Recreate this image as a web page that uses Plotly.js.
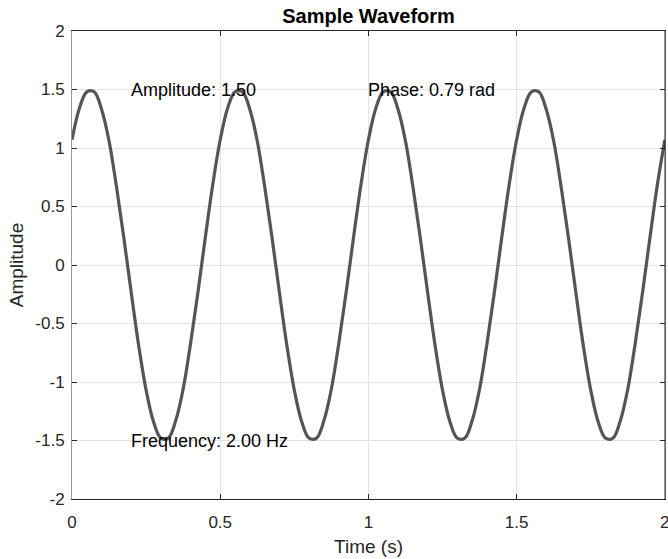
<!DOCTYPE html>
<html>
<head>
<meta charset="utf-8">
<script src="https://cdn.plot.ly/plotly-3.0.1.min.js"></script>
<style>html,body{margin:0;padding:0;background:#fff;}#chart{width:668px;height:559px;}</style>
</head>
<body>
<div id="chart"></div>
<script>
// Time samples (s)
const timeS = [
  0.000,0.025,0.050,0.075,0.100,0.125,0.150,0.175,0.200,0.225,
  0.250,0.275,0.300,0.325,0.350,0.375,0.400,0.425,0.450,0.475,
  0.500,0.525,0.550,0.575,0.600,0.625,0.650,0.675,0.700,0.725,
  0.750,0.775,0.800,0.825,0.850,0.875,0.900,0.925,0.950,0.975,
  1.000,1.025,1.050,1.075,1.100,1.125,1.150,1.175,1.200,1.225,
  1.250,1.275,1.300,1.325,1.350,1.375,1.400,1.425,1.450,1.475,
  1.500,1.525,1.550,1.575,1.600,1.625,1.650,1.675,1.700,1.725,
  1.750,1.775,1.800,1.825,1.850,1.875,1.900,1.925,1.950,1.975,
  2.000
];
// Amplitude values
const amplitude = [
  1.07,1.34,1.48,1.48,1.33,1.06,0.67,0.23,-0.24,-0.69,
  -1.07,-1.34,-1.48,-1.48,-1.33,-1.06,-0.67,-0.23,0.24,0.69,
  1.07,1.34,1.48,1.48,1.33,1.06,0.67,0.23,-0.24,-0.69,
  -1.07,-1.34,-1.48,-1.48,-1.33,-1.06,-0.67,-0.23,0.24,0.69,
  1.07,1.34,1.48,1.48,1.33,1.06,0.67,0.23,-0.24,-0.69,
  -1.07,-1.34,-1.48,-1.48,-1.33,-1.06,-0.67,-0.23,0.24,0.69,
  1.07,1.34,1.48,1.48,1.33,1.06,0.67,0.23,-0.24,-0.69,
  -1.07,-1.34,-1.48,-1.48,-1.33,-1.06,-0.67,-0.23,0.24,0.69,
  1.07
];
const xTickVals = [0, 0.5, 1, 1.5, 2];
const xTickText = ['0', '0.5', '1', '1.5', '2'];
const yTickVals = [-2, -1.5, -1, -0.5, 0, 0.5, 1, 1.5, 2];
const yTickText = ['-2', '-1.5', '-1', '-0.5', '0', '0.5', '1', '1.5', '2'];
const labelTexts = ['Amplitude: 1.50', 'Phase: 0.79 rad', 'Frequency: 2.00 Hz'];
const labelX = [0.2, 1.0, 0.2];
const labelY = [1.5, 1.5, -1.5];

const font = 'Liberation Sans, Arial, Helvetica, sans-serif';
const axisColor = '#262626';

const trace = {
  x: timeS, y: amplitude, type: 'scatter', mode: 'lines',
  line: {color: '#555555', width: 3.2, shape: 'spline', smoothing: 1},
  hoverinfo: 'skip', showlegend: false
};

const annotations = labelTexts.map((t, i) => ({
  x: labelX[i], y: labelY[i], xref: 'x', yref: 'y', text: t,
  showarrow: false, xanchor: 'left', yanchor: 'middle', xshift: -2,
  font: {family: font, size: 18, color: '#000'}
}));

const axisCommon = {
  showline: true, linecolor: axisColor, linewidth: 1, mirror: 'ticks',
  ticks: 'inside', ticklen: 5, tickcolor: axisColor, tickwidth: 1,
  showgrid: true, gridcolor: '#e3e3e3', gridwidth: 1, zeroline: false,
  ticklabeloverflow: 'allow',
  tickfont: {family: font, size: 17, color: axisColor}
};

const layout = {
  width: 668, height: 559,
  margin: {l: 72, r: 3, t: 31, b: 60},
  paper_bgcolor: '#fff', plot_bgcolor: '#fff',
  title: {text: '<b>Sample Waveform</b>', font: {family: font, size: 20, color: '#000'},
          x: 0.5, xref: 'paper', y: 0.972, yref: 'container', yanchor: 'middle'},
  xaxis: Object.assign({}, axisCommon, {
    range: [0, 2.0005], tickvals: xTickVals, ticktext: xTickText,
    ticklabelstandoff: 8,
    title: {text: 'Time (s)', font: {family: font, size: 19, color: axisColor}, standoff: 8}
  }),
  yaxis: Object.assign({}, axisCommon, {
    range: [-2, 2], tickvals: yTickVals, ticktext: yTickText,
    linecolor: '#9a9a9a',
    ticklabelstandoff: 3,
    title: {text: 'Amplitude', font: {family: font, size: 19, color: axisColor}, standoff: 6}
  }),
  shapes: [{type: 'line', xref: 'paper', yref: 'paper', x0: 1, x1: 1, y0: 0, y1: 1,
            line: {color: axisColor, width: 1}}],
  annotations: annotations
};

Plotly.newPlot('chart', [trace], layout, {displayModeBar: false, staticPlot: true});
</script>
</body>
</html>
